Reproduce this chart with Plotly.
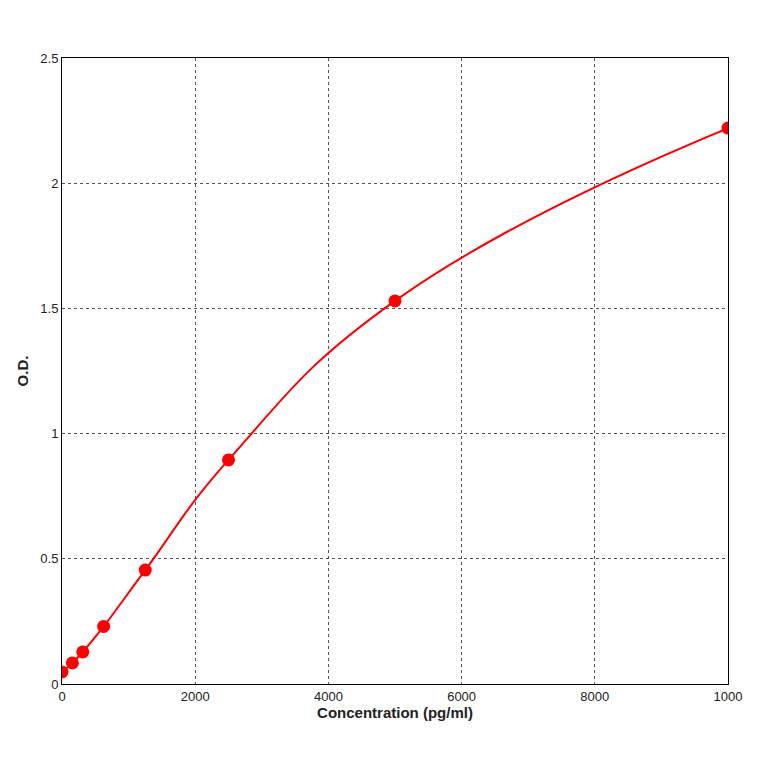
import plotly.graph_objects as go

conc = [0, 156, 312, 625, 1250, 2500, 5000, 10000]
od = [0.048, 0.084, 0.128, 0.23, 0.455, 0.895, 1.53, 2.22]
xticks = [0, 2000, 4000, 6000, 8000, 10000]
xticklabels = ["0", "2000", "4000", "6000", "8000", "1000"]
yticks = [0, 0.5, 1, 1.5, 2, 2.5]
yticklabels = ["0", "0.5", "1", "1.5", "2", "2.5"]

fig = go.Figure()
fig.add_trace(go.Scatter(x=conc, y=od, mode="lines", line=dict(color="#ff0000", width=2, shape="spline", smoothing=1.3), hoverinfo="skip"))
fig.add_trace(go.Scatter(x=conc, y=od, mode="markers", marker=dict(color="#ff0000", size=13, symbol="circle")))

axis_common = dict(showgrid=True, gridcolor="#555555", griddash="dot", gridwidth=1,
                   showline=True, linecolor="black", linewidth=1, mirror=True,
                   ticks="", zeroline=False, tickfont=dict(family="Liberation Sans", size=13, color="#222"))
fig.update_xaxes(range=[0, 10000], tickvals=xticks, ticktext=xticklabels,
                 title=dict(text="<b>Concentration (pg/ml)</b>", font=dict(family="Liberation Sans", size=15, color="#222"), standoff=2),
                 **axis_common)
fig.update_yaxes(range=[0, 2.5], tickvals=yticks, ticktext=yticklabels,
                 title=dict(text="<b>O.D.</b>", font=dict(family="Liberation Sans", size=15, color="#222"), standoff=8),
                 **axis_common)
fig.update_layout(width=764, height=764, showlegend=False, plot_bgcolor="white", paper_bgcolor="white",
                  margin=dict(l=54, r=44, t=50, b=88))
fig.write_html("out.html")
